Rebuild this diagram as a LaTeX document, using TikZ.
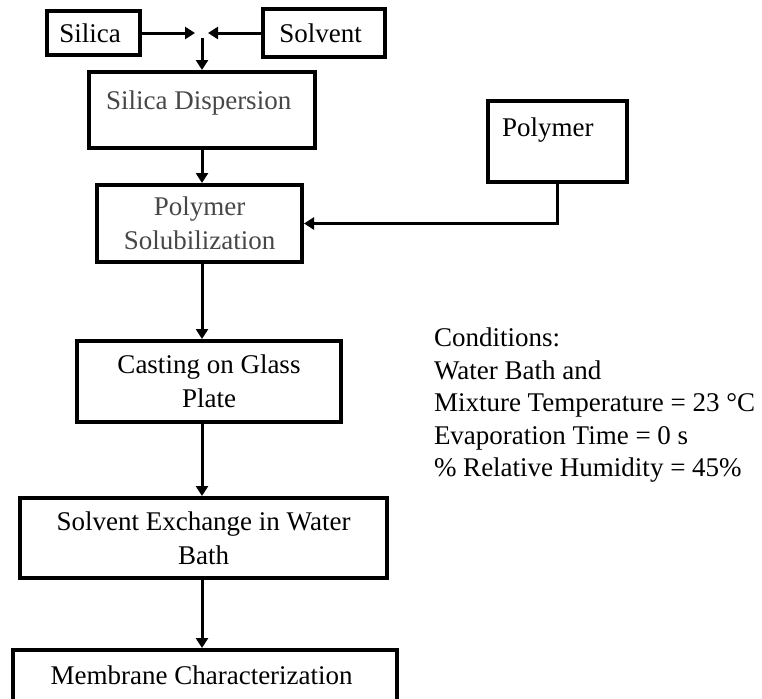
\documentclass[tikz,border=0pt]{standalone}
\usepackage{fontspec}
\setmainfont{Liberation Serif}
\usetikzlibrary{arrows.meta}

\begin{document}
\begin{tikzpicture}[x=0.5pt,y=-0.5pt,font=\fontsize{13.5}{17}\selectfont,every node/.style = {shape=rectangle, draw, line width=2pt, align=center}]
		\tikzset{
			flow/.style = { draw, line width=1.5pt, -{Triangle[length=5pt,width=6pt]} },
			faded/.style = { text=black!72 },
			note/.style = { draw=none, align=left, inner sep=0pt, font=\fontsize{13.5}{16.25}\selectfont },
		}
		\useasboundingbox (0,0) rectangle (762,698);
		\clip (0,0) rectangle (762,698);
		\node (silica) [minimum width=46.5pt, minimum height=22pt] at (93.5,33) { Silica };
		\node (solvent) [minimum width=61pt, minimum height=24pt] at (324,33) { Solvent };
		\coordinate (mix) at (202,33);
		\node (disp) [faded, anchor=base, inner sep=0pt, minimum width=113pt, text height=18.5pt, text depth=19.5pt] at (202,109) { Silica Dispersion };
		\node (polymer) [anchor=north west, inner xsep=7pt, inner ysep=0pt, text width=55.5pt, align=left, text height=17.5pt, text depth=23pt] at (486,99) { Polymer };
		\node (solub) [faded, minimum width=102.5pt, minimum height=38.5pt] at (199.5,223.5) { Polymer \\ Solubilization };
		\node (cast) [minimum width=132pt, minimum height=40.5pt] at (209,381.5) { Casting on Glass \\ Plate };
		\node (exch) [minimum width=183.5pt, minimum height=40pt] at (203.5,538) { Solvent Exchange in Water \\ Bath };
		\node (memb) [anchor=base, inner sep=0pt, minimum width=192pt, text height=17pt, text depth=20pt] at (205,684) { Membrane Characterization };
		\node (cond) [note, anchor=north west] at (432,326) { Conditions: \\ Water Bath and \\ Mixture Temperature = 23 °C \\ Evaporation Time = 0 s \\ \% Relative Humidity = 45\% };
		\draw[flow, shorten >=3.5pt] (silica) -- (mix);
		\draw[flow, shorten >=3pt] (solvent) -- (mix);
		\draw[flow, shorten <=2.5pt] (mix) -- (disp.north);
		\draw[flow] (mix |- disp.south) -- (mix |- solub.north);
		\draw[flow] (mix |- solub.south) -- (mix |- cast.north);
		\draw[flow] (mix |- cast.south) -- (mix |- exch.north);
		\draw[flow] (mix |- exch.south) -- (mix |- memb.north);
		\draw[flow] (polymer.south) |- (solub.east);
\end{tikzpicture}
\end{document}
